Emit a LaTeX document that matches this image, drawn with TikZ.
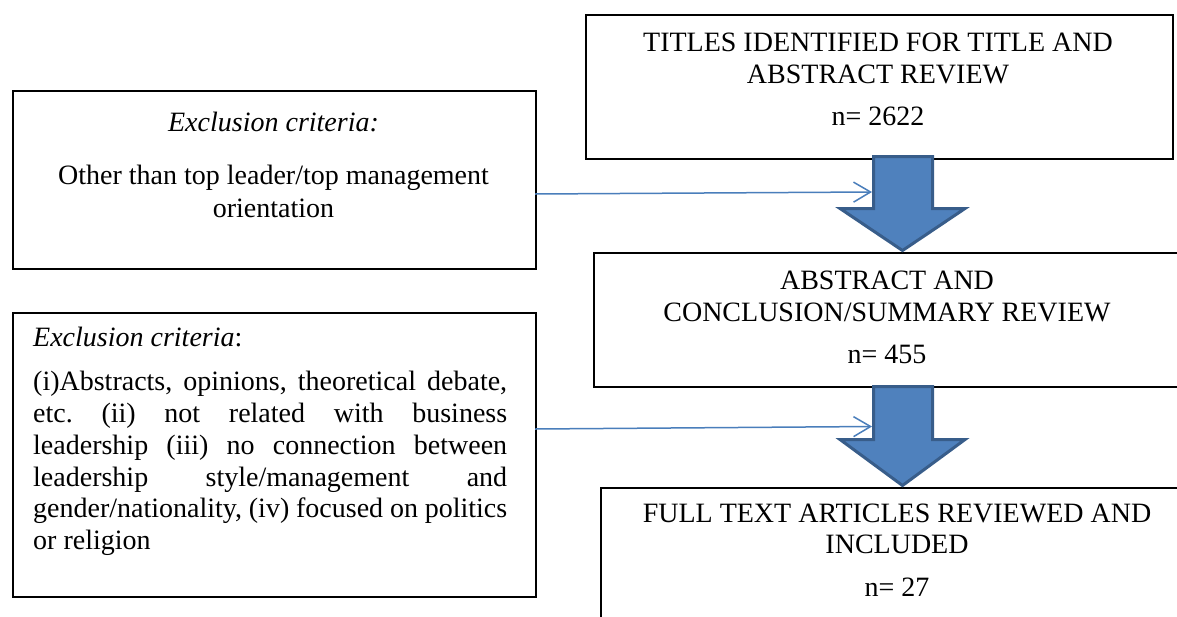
\documentclass[tikz,border=0pt]{standalone}
\usepackage{fontspec}
\setmainfont{Liberation Serif}
\usetikzlibrary{arrows.meta}
\definecolor{blockfill}{HTML}{4F81BD}
\definecolor{blockline}{HTML}{385D8A}
\definecolor{connblue}{HTML}{4A7EBB}
\frenchspacing
\begin{document}
\begin{tikzpicture}[x=1pt,y=-1pt,
 box/.style={draw=black,line width=1.6pt,inner sep=0pt,anchor=north west},
 txt/.style={inner sep=0pt,anchor=base,font=\fontsize{28}{32}\selectfont},
 ltxt/.style={txt,anchor=base west},
 blockarrow/.style={fill=blockfill,draw=blockline,line width=3pt,line join=miter},
 conn/.style={draw=connblue,line width=1.5pt,-{Straight Barb[length=17pt,width=20pt,line width=1.5pt]}}]
\clip (0,0) rectangle (1177,616);
\fill[white] (0,0) rectangle (1177,616);
% right column boxes
\node[box,minimum width=587pt,minimum height=144pt] (t1) at (585,14) {};
\node[box,minimum width=600pt,minimum height=134pt] (t2) at (593,252) {};
\node[box,minimum width=600pt,minimum height=150pt] (t3) at (600,487) {};
% left column boxes
\node[box,minimum width=523pt,minimum height=178pt] (l1) at (12,90) {};
\node[box,minimum width=523pt,minimum height=284pt] (l2) at (12,312) {};
% right column texts
\node[txt] (t1a) at (878,51.5) {TITLES IDENTIFIED FOR TITLE AND};
\node[txt] (t1b) at (878,83.5) {ABSTRACT REVIEW};
\node[txt] (t1c) at (878,125) {n= 2622};
\node[txt] (t2a) at (887,289.5) {ABSTRACT AND};
\node[txt] (t2b) at (887,321.5) {CONCLUSION/SUMMARY REVIEW};
\node[txt] (t2c) at (887,363) {n= 455};
\node[txt] (t3a) at (897,522) {FULL TEXT ARTICLES REVIEWED AND};
\node[txt] (t3b) at (897,553) {INCLUDED};
\node[txt] (t3c) at (897,596) {n= 27};
% left box 1 texts
\node[txt] (l1a) at (273.5,131) {\itshape Exclusion criteria:};
\node[txt] (l1b) at (273.5,184.5) {Other than top leader/top management};
\node[txt] (l1c) at (273.5,217) {orientation};
% left box 2 texts
\node[ltxt] (l2a) at (33,346) {\textit{Exclusion criteria}:};
\node[ltxt] (l2b) at (33,390) {\makebox[474pt][s]{(i)Abstracts, opinions, theoretical debate,}};
\node[ltxt] (l2c) at (33,422) {\makebox[474pt][s]{etc. (ii) not related with business}};
\node[ltxt] (l2d) at (33,454) {\makebox[474pt][s]{leadership (iii) no connection between}};
\node[ltxt] (l2e) at (33,486) {\makebox[474pt][s]{leadership style/management and}};
\node[ltxt] (l2f) at (33,517) {\makebox[474pt][s]{gender/nationality, (iv) focused on politics}};
\node[ltxt] (l2g) at (33,549) {or religion};
% block arrows
\draw[blockarrow] (873.5,156.5) -- (932.5,156.5) -- (932.5,208.5) -- (965,208.5)
  -- (902.5,250.5) -- (840,208.5) -- (873.5,208.5) -- cycle;
\draw[blockarrow] (873.5,386.5) -- (932.5,386.5) -- (932.5,439.5) -- (965,439.5)
  -- (902.5,485.5) -- (840,439.5) -- (873.5,439.5) -- cycle;
% connectors
\coordinate (s1) at (535,194);
\coordinate (e1) at (872,192);
\coordinate (s2) at (535,429);
\coordinate (e2) at (872,426.5);
\draw[conn] (s1) -- (e1);
\draw[conn] (s2) -- (e2);
\end{tikzpicture}
\end{document}
